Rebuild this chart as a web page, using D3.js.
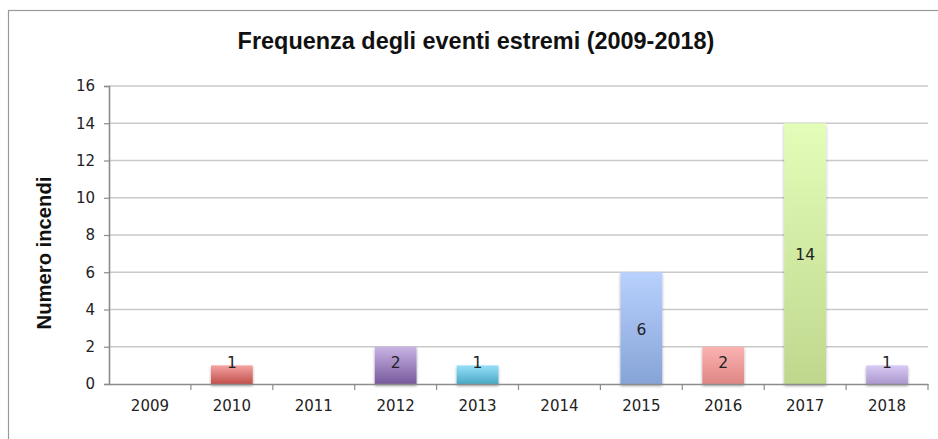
<!DOCTYPE html>
<html>
<head>
<meta charset="utf-8">
<script src="https://cdn.jsdelivr.net/npm/d3@7"></script>
<style>
  body { margin: 0; background: #fff; }
  svg { display: block; }
</style>
</head>
<body>
<div id="chart"></div>
<script>

// data
var years = ["2009", "2010", "2011", "2012", "2013", "2014", "2015", "2016", "2017", "2018"];
var values = [0, 1, 0, 2, 1, 0, 6, 2, 14, 1];
var yTicks = [0, 2, 4, 6, 8, 10, 12, 14, 16];
var topColors = ["#f5a3a1", "#f5a3a1", "#ffffff", "#c8b4e4", "#96dffa", "#ffffff", "#b8d1fe", "#fbb3b2", "#e4fdb8", "#d8caf4"];
var bottomColors = ["#c0504d", "#c24f4c", "#ffffff", "#77599c", "#48a9c5", "#ffffff", "#87a4d7", "#de8684", "#bfd78d", "#ab98ce"];

var W = 938, H = 439;
var margin = { left: 109, top: 86 };
var plotRight = 928, plotBottom = 384;

var svg = d3.select("#chart").append("svg")
    .attr("width", W)
    .attr("height", H);

var defs = svg.append("defs");

// soft shadow under bars
var shadow = defs.append("filter")
    .attr("id", "barShadow")
    .attr("x", "-20%").attr("y", "-20%")
    .attr("width", "140%").attr("height", "140%");
shadow.append("feGaussianBlur").attr("in", "SourceAlpha").attr("stdDeviation", 1.6).attr("result", "blur");
shadow.append("feOffset").attr("dx", 0).attr("dy", 1.5).attr("result", "off");
shadow.append("feComponentTransfer").append("feFuncA").attr("type", "linear").attr("slope", 0.35);
var merge = shadow.append("feMerge");
merge.append("feMergeNode");
merge.append("feMergeNode").attr("in", "SourceGraphic");

years.forEach(function(y, i) {
    var g = defs.append("linearGradient")
        .attr("id", "grad" + i)
        .attr("x1", 0).attr("y1", 0).attr("x2", 0).attr("y2", 1);
    g.append("stop").attr("offset", "0%").attr("stop-color", topColors[i]);
    g.append("stop").attr("offset", "100%").attr("stop-color", bottomColors[i]);
});

// outer frame (cropped on right & bottom)
svg.append("rect")
    .attr("x", 8.5).attr("y", 10.5)
    .attr("width", W).attr("height", H)
    .attr("fill", "none")
    .attr("stroke", "#9a9a9a")
    .attr("stroke-width", 1.2);

var x = d3.scaleBand()
    .domain(years)
    .range([margin.left, plotRight])
    .paddingInner(0.49)
    .paddingOuter(0.245);

var xb = d3.scaleBand()
    .domain(years)
    .range([margin.left, plotRight]);

var y = d3.scaleLinear()
    .domain([0, 16])
    .range([plotBottom, margin.top]);

var font = "'DejaVu Sans', sans-serif";
var boldFont = "'Liberation Sans', Arial, sans-serif";

var rows = years.map(function(yr, i) {
    return { year: yr, value: values[i], idx: i };
}).filter(function(d) { return d.value > 0; });

// gridlines
svg.append("g")
    .selectAll("line")
    .data(yTicks.filter(function(d) { return d > 0; }))
    .join("line")
    .attr("x1", margin.left).attr("x2", plotRight)
    .attr("y1", function(d) { return y(d); })
    .attr("y2", function(d) { return y(d); })
    .attr("stroke", "#c9c9c9")
    .attr("stroke-width", 1.6);

// y axis
var yAxis = svg.append("g")
    .attr("transform", "translate(" + margin.left + ",0)")
    .call(d3.axisLeft(y).tickValues(yTicks).tickSize(5).tickPadding(9));
yAxis.select(".domain").attr("stroke", "#8c8c8c").attr("stroke-width", 1.6);
yAxis.selectAll(".tick line").attr("stroke", "#8c8c8c").attr("stroke-width", 1.2);
yAxis.selectAll("text")
    .attr("font-family", font)
    .attr("font-size", 15)
    .attr("fill", "#222");

// bars
svg.append("g")
    .selectAll("rect")
    .data(rows)
    .join("rect")
    .attr("x", function(d) { return x(d.year); })
    .attr("y", function(d) { return y(d.value); })
    .attr("width", x.bandwidth())
    .attr("height", function(d) { return y(0) - y(d.value); })
    .attr("fill", function(d) { return "url(#grad" + d.idx + ")"; })
    .attr("filter", "url(#barShadow)");

// x axis
var xAxis = svg.append("g")
    .attr("transform", "translate(0," + plotBottom + ")")
    .call(d3.axisBottom(xb).tickSize(0).tickPadding(16));
xAxis.select(".domain").attr("stroke", "#8c8c8c").attr("stroke-width", 1.6);
xAxis.selectAll("text")
    .attr("font-family", font)
    .attr("font-size", 15)
    .attr("fill", "#222");

// x tick marks at category boundaries
svg.append("g")
    .selectAll("line")
    .data(years)
    .join("line")
    .attr("x1", function(d) { return xb(d) + xb.bandwidth(); })
    .attr("x2", function(d) { return xb(d) + xb.bandwidth(); })
    .attr("y1", plotBottom)
    .attr("y2", plotBottom + 6)
    .attr("stroke", "#8c8c8c")
    .attr("stroke-width", 1.2);

// data labels
svg.append("g")
    .selectAll("text")
    .data(rows)
    .join("text")
    .attr("x", function(d) { return x(d.year) + x.bandwidth() / 2; })
    .attr("y", function(d) { return Math.min((y(d.value) + y(0)) / 2 + 1.5, y(0) - 21); })
    .attr("text-anchor", "middle")
    .attr("dominant-baseline", "central")
    .attr("font-family", font)
    .attr("font-size", 15.5)
    .attr("fill", "#222")
    .text(function(d) { return d.value; });

// title
var title = svg.append("text")
    .attr("x", 476)
    .attr("y", 49)
    .attr("text-anchor", "middle")
    .attr("font-family", boldFont)
    .attr("font-weight", "bold")
    .attr("font-size", 19)
    .attr("fill", "#111")
    .text("Frequenza degli eventi estremi (2009-2018)");
var tw = title.node().getComputedTextLength();
title.attr("font-size", 19 * 477 / tw);

// y axis title
var ylab = svg.append("text")
    .attr("transform", "translate(51,253) rotate(-90)")
    .attr("text-anchor", "middle")
    .attr("font-family", boldFont)
    .attr("font-weight", "bold")
    .attr("font-size", 16)
    .attr("fill", "#111")
    .text("Numero incendi");
var lw = ylab.node().getComputedTextLength();
ylab.attr("font-size", 16 * 153 / lw);

</script>
</body>
</html>
